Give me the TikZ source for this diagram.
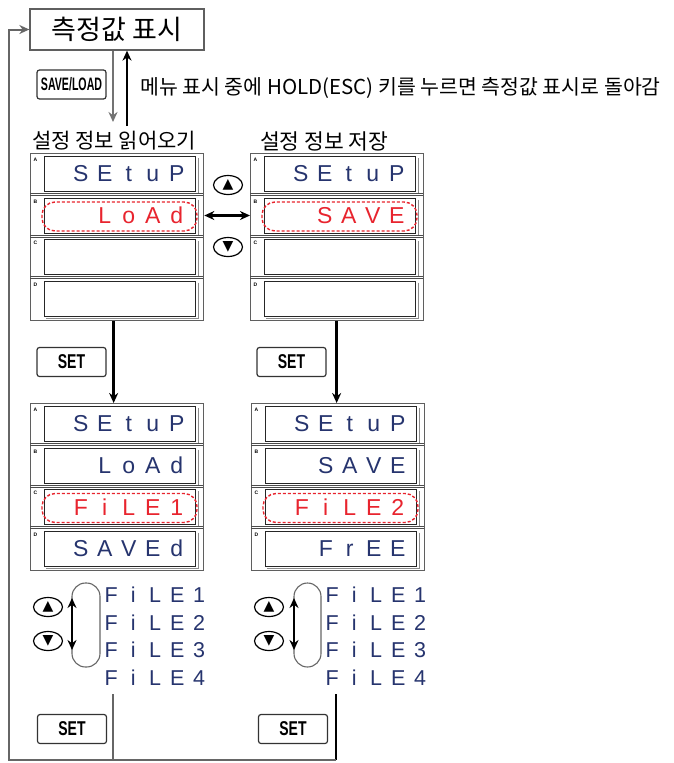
\documentclass[tikz,border=0pt]{standalone}
\usepackage{fontspec}
\setmainfont{Liberation Sans}
\newfontfamily\kr{Noto Sans CJK KR}
\newfontfamily\sym{DejaVu Sans}
\usetikzlibrary{arrows.meta,shapes.geometric,calc}

\definecolor{dispblue}{RGB}{38,52,110}
\definecolor{dispred}{RGB}{232,36,46}
\definecolor{framegray}{RGB}{95,95,95}

\newcommand\sg[1]{\makebox[24pt]{#1}}
\newcommand\fl[1]{\makebox[22pt]{#1}}

\tikzset{
 panelbox/.style={draw=framegray, line width=1.3pt, minimum width=173pt, minimum height=167pt, inner sep=0pt, anchor=north west},
 rowbox/.style={draw=black!85, line width=0.9pt},
 rowshade/.style={draw=black!45, line width=0.9pt},
 rowsep/.style={draw=black!70, line width=0.8pt},
 rowletter/.style={font=\bfseries\fontsize{5}{5}\selectfont, inner sep=0pt},
 disp/.style={font=\fontsize{23}{23}\selectfont, text=dispblue, inner sep=0pt, anchor=east},
 hl/.style={draw=dispred, line width=1.4pt, dash pattern=on 3pt off 2pt, rounded corners=13pt},
 keybox/.style={draw=black!80, line width=1.2pt, rounded corners=2.5pt, inner sep=0pt, font=\bfseries, minimum width=69pt, minimum height=29pt},
 arrowbtn/.style={ellipse, draw=black, line width=1.2pt, minimum width=29pt, minimum height=19pt, inner sep=0pt, font=\sym\fontsize{14}{14}\selectfont},
 flow/.style={line width=2.4pt, -{Stealth[length=10pt,width=9pt]}},
 flowgray/.style={line width=2.2pt, draw=black!55, -{Stealth[length=10pt,width=9pt,fill=black!80]}},
 dbl/.style={line width=2.4pt, {Stealth[length=10pt,width=9pt]}-{Stealth[length=10pt,width=9pt]}},
 stad/.style={draw=black!60, line width=1.1pt, rounded corners=13.5pt},
 krtitle/.style={font=\kr\fontsize{27}{27}\selectfont, inner sep=0pt},
 krhead/.style={font=\kr\fontsize{21}{21}\selectfont, inner sep=0pt, anchor=west},
 krnote/.style={font=\kr\fontsize{20.5}{20.5}\selectfont, inner sep=0pt, anchor=west},
 flist/.style={font=\fontsize{21.5}{21.5}\selectfont, text=dispblue, inner sep=0pt, anchor=west},
 loopline/.style={draw=black!60, line width=2pt},
}

\newcommand\mkpanel[3]{%
  \node[panelbox] (#1) at (#2,#3) {};
  \foreach \i/\L in {0/A,1/B,2/C,3/D}{%
    \pgfmathsetmacro\ry{#3+41.5*\i}%
    \draw[rowshade] (#2+168,\ry+5) -- (#2+168,\ry+40.5) -- (#2+16,\ry+40.5);
    \draw[rowbox] (#2+14,\ry+3.5) rectangle (#2+165,\ry+38.5);
    \node[rowletter] (#1l\L) at (#2+5.5,\ry+7) {\L};
  }
  \foreach \i in {1,2,3}{%
    \pgfmathsetmacro\ry{#3+41.5*\i}%
    \draw[rowsep] (#2,\ry-0.8) -- (#2+173,\ry-0.8);
    \draw[rowsep] (#2,\ry+1) -- (#2+173,\ry+1);
  }
}
% name, panel x, row top, colour, content
\newcommand\mkdisp[5]{\node[disp, text=#4] (#1) at (#2+159,#3+21) {#5};}
\newcommand\mkhl[2]{\draw[hl] (#1+12,#2+7.5) rectangle (#1+167,#2+36.5);}

\begin{document}
\begin{tikzpicture}[x=1pt,y=-1pt]
\useasboundingbox (0,0) rectangle (673,763);
\fill[white] (0,0) rectangle (673,763);

% top box
\node[krtitle, draw=framegray, line width=1.3pt, minimum width=174pt, minimum height=41pt] (top) at (117,29.5) {측정값 표시};

% save/load key and note
\node[keybox] (ksl) at (71.5,84.5) {\fontsize{18}{18}\selectfont\scalebox{0.59}[1]{SAVE/LOAD}};
\node[krnote] (note) at (140,88) {메뉴 표시 중에 HOLD(ESC) 키를 누르면 측정값 표시로 돌아감};
\coordinate (dnend) at (113,122);
\coordinate (upstart) at (127,126);
\draw[flowgray] ($(top.south)+(-4,0)$) -- (dnend);
\draw[flow] (upstart) -- ($(top.south)+(10,0)$);

% headers
\node[krhead] (h1) at (32,141) {설정 정보 읽어오기};
\node[krhead, font=\kr\fontsize{21.5}{21.5}\selectfont] (h2) at (260,141) {설정 정보 저장};

% upper panels
\mkpanel{p1}{30}{153}
\mkpanel{p2}{250}{153}
\mkhl{30}{194.5}
\mkhl{250}{194.5}
\mkdisp{d1a}{30}{153}{dispblue}{\sg{S}\sg{E}\sg{t}\sg{u}\sg{P}}
\mkdisp{d1b}{30}{194.5}{dispred}{\sg{L}\sg{o}\sg{A}\sg{d}}
\mkdisp{d2a}{250}{153}{dispblue}{\sg{S}\sg{E}\sg{t}\sg{u}\sg{P}}
\mkdisp{d2b}{250}{194.5}{dispred}{\sg{S}\sg{A}\sg{V}\sg{E}}

% up/down between panels
\node[arrowbtn] (bu1) at (228,185) {▲};
\node[arrowbtn] (bd1) at (228,247) {▼};
\draw[dbl] (p1.east |- d1b.east) -- (p2.west |- d1b.east);

% SET keys upper
\node[keybox] (set1) at (71.5,362) {\fontsize{20}{20}\selectfont\scalebox{0.7}[1]{SET}};
\node[keybox] (set2) at (291.5,362) {\fontsize{20}{20}\selectfont\scalebox{0.7}[1]{SET}};

% lower panels
\mkpanel{p3}{30}{403}
\mkpanel{p4}{251}{403}
\draw[flow] ($(p1.south)+(-3.5,0)$) -- ($(p3.north)+(-3.5,0)$);
\draw[flow] ($(p2.south)+(-0.5,0)$) -- ($(p4.north)+(-1.5,0)$);
\mkhl{30}{486}
\mkhl{251}{486}
\mkdisp{d3a}{30}{403}{dispblue}{\sg{S}\sg{E}\sg{t}\sg{u}\sg{P}}
\mkdisp{d3b}{30}{444.5}{dispblue}{\sg{L}\sg{o}\sg{A}\sg{d}}
\mkdisp{d3c}{30}{486}{dispred}{\sg{F}\sg{i}\sg{L}\sg{E}\sg{1}}
\mkdisp{d3d}{30}{527.5}{dispblue}{\sg{S}\sg{A}\sg{V}\sg{E}\sg{d}}
\mkdisp{d4a}{251}{403}{dispblue}{\sg{S}\sg{E}\sg{t}\sg{u}\sg{P}}
\mkdisp{d4b}{251}{444.5}{dispblue}{\sg{S}\sg{A}\sg{V}\sg{E}}
\mkdisp{d4c}{251}{486}{dispred}{\sg{F}\sg{i}\sg{L}\sg{E}\sg{2}}
\mkdisp{d4d}{251}{527.5}{dispblue}{\sg{F}\sg{r}\sg{E}\sg{E}}

% file lists
\foreach \n/\y in {1/595,2/622.5,3/650,4/677.5}{
  \node[flist] (fa\n) at (100,\y) {\fl{F}\fl{i}\fl{L}\fl{E}\fl{\n}};
  \node[flist] (fb\n) at (321,\y) {\fl{F}\fl{i}\fl{L}\fl{E}\fl{\n}};
}
\draw[stad] (72,583) rectangle (100,667);
\draw[stad] (294,583) rectangle (321,667);
\coordinate (la1) at (72,598);
\coordinate (la2) at (72,650);
\coordinate (lb1) at (294,598);
\coordinate (lb2) at (294,650);
\draw[dbl] (la1) -- (la2);
\draw[dbl] (lb1) -- (lb2);
\node[arrowbtn] (bu2) at (48,607) {▲};
\node[arrowbtn] (bd2) at (48,641) {▼};
\node[arrowbtn] (bu3) at (269,607) {▲};
\node[arrowbtn] (bd3) at (269,641) {▼};

% SET keys lower
\node[keybox] (set3) at (72,729) {\fontsize{20}{20}\selectfont\scalebox{0.7}[1]{SET}};
\node[keybox] (set4) at (293,729) {\fontsize{20}{20}\selectfont\scalebox{0.7}[1]{SET}};

% return loop
\coordinate (sa) at (113,694);
\coordinate (sb) at (336,694);
\coordinate (ba) at (113,760);
\coordinate (bb) at (336,760);
\coordinate (bl) at (9,760);
\coordinate (tl) at (9,29.5);
\draw[loopline] (sa) -- (ba);
\draw[line width=2.2pt] (sb) -- (bb);
\draw[loopline, -{Stealth[length=10pt,width=9pt,fill=black]}] (bb) -- (bl) -- (tl) -- (top.west);
\end{tikzpicture}
\end{document}
